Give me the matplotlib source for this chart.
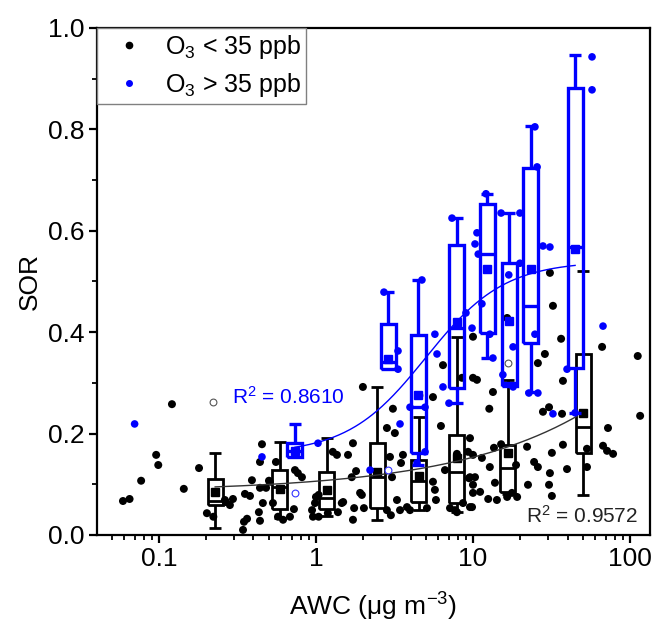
import numpy as np
import matplotlib
matplotlib.use('Agg')
import matplotlib.pyplot as plt
from matplotlib.lines import Line2D
from matplotlib.ticker import LogLocator, NullFormatter, MultipleLocator

plt.rcParams['font.family'] = ['Liberation Sans', 'DejaVu Sans']
plt.rcParams['mathtext.fontset'] = 'custom'
plt.rcParams['mathtext.rm'] = 'Liberation Sans'
plt.rcParams['mathtext.it'] = 'Liberation Sans:italic'
plt.rcParams['mathtext.default'] = 'regular'

# ---------------- data ----------------
# O3 < 35 ppb scatter points
low_awc = [0.059, 0.065, 0.077, 0.096, 0.099, 0.121, 0.144, 0.180, 0.202, 0.222,
           0.263, 0.267, 0.283, 0.296, 0.343, 0.348, 0.364, 0.353, 0.380, 0.391,
           0.440, 0.481, 0.433, 0.440, 0.459, 0.453, 0.440, 0.509, 0.532, 0.556,
           0.617, 0.502, 0.573, 0.683, 0.735, 0.767, 0.814, 0.724, 0.944, 0.986,
           1.00, 0.957, 1.28, 1.36, 1.49, 1.60, 1.72, 1.80, 1.75, 1.72,
           1.96, 1.99, 2.02, 1.91, 2.83, 3.09, 3.18, 3.00, 3.28, 3.48,
           3.58, 2.96, 3.05, 3.80, 3.97, 5.09, 5.56, 5.72, 5.81, 6.25,
           6.44, 6.63, 7.14, 7.68, 8.64, 8.51, 10.0, 10.0, 10.0, 10.3,
           10.0, 9.86, 7.90, 9.57, 10.6, 13.4, 12.7, 30.9, 32.3, 36.4,
           28.7, 25.9, 37.4, 27.9, 30.5, 36.9, 66.4, 112, 116, 72.4,
           67.3, 71.4, 78.0, 53.2, 53.2, 9.57, 11.4, 13.6, 12.8, 13.8,
           11.1, 12.5, 14.2, 16.5, 17.7, 19.1, 9.57, 22.4, 22.1, 24.5,
           25.9, 30.9, 31.8, 30.5, 31.8, 37.4, 39.7, 18.8, 15.1, 9.43,
           16.5, 7.90, 1.19, 1.46, 1.38, 1.69, 5.56, 2.83, 1.04, 1.04,
           3.43, 9.30, 10.0]
low_sor = [0.067, 0.071, 0.107, 0.158, 0.138, 0.258, 0.091, 0.132, 0.043, 0.036,
           0.069, 0.065, 0.059, 0.071, 0.010, 0.026, 0.032, 0.081, 0.077, 0.108,
           0.093, 0.093, 0.045, 0.028, 0.063, 0.179, 0.144, 0.105, 0.063, 0.144,
           0.030, 0.107, 0.036, 0.036, 0.128, 0.122, 0.114, 0.051, 0.049, 0.063,
           0.075, 0.036, 0.164, 0.158, 0.065, 0.158, 0.181, 0.126, 0.053, 0.030,
           0.079, 0.292, 0.053, 0.083, 0.211, 0.249, 0.201, 0.039, 0.069, 0.142,
           0.158, 0.154, 0.114, 0.055, 0.049, 0.053, 0.272, 0.089, 0.069, 0.215,
           0.335, 0.128, 0.053, 0.049, 0.063, 0.310, 0.391, 0.310, 0.158, 0.114,
           0.099, 0.055, 0.045, 0.191, 0.306, 0.282, 0.249, 0.517, 0.452, 0.387,
           0.357, 0.339, 0.304, 0.243, 0.252, 0.239, 0.371, 0.353, 0.235, 0.211,
           0.176, 0.166, 0.160, 0.170, 0.134, 0.114, 0.152, 0.172, 0.134, 0.103,
           0.085, 0.071, 0.069, 0.075, 0.083, 0.075, 0.055, 0.099, 0.174, 0.144,
           0.134, 0.122, 0.162, 0.099, 0.077, 0.178, 0.130, 0.138, 0.179, 0.112,
           0.428, 0.160, 0.043, 0.063, 0.045, 0.114, 0.105, 0.049, 0.079, 0.036,
           0.049, 0.164, 0.083]

# O3 > 35 ppb scatter points
high_awc = [0.070, 0.453, 1.03, 2.21, 3.43, 2.71, 3.33, 3.33, 4.73, 3.97,
            4.95, 5.72, 5.90, 4.95, 4.40, 6.44, 7.03, 7.35, 9.02, 9.86,
            10.6, 10.3, 10.8, 11.4, 12.1, 15.1, 19.9, 16.9, 19.9, 18.0,
            13.4, 12.8, 24.8, 27.9, 30.9, 25.6, 24.8, 57.3, 57.3, 67.3,
            32.3, 15.5, 18.0, 22.7, 25.9, 39.7, 44.7]
high_sor = [0.219, 0.154, 0.181, 0.128, 0.219, 0.479, 0.363, 0.327, 0.503, 0.252,
            0.252, 0.396, 0.357, 0.164, 0.142, 0.292, 0.260, 0.625, 0.438, 0.408,
            0.596, 0.574, 0.554, 0.456, 0.673, 0.635, 0.635, 0.513, 0.536, 0.371,
            0.349, 0.396, 0.396, 0.570, 0.568, 0.726, 0.805, 0.943, 0.878, 0.412,
            0.239, 0.316, 0.292, 0.280, 0.280, 0.327, 0.241]

# outliers (open circles)
low_out_awc = [0.222, 4.53, 16.7]
low_out_sor = [0.262, 0.276, 0.339]
high_out_awc = [0.735, 2.88]
high_out_sor = [0.083, 0.128]

# box statistics, O3 < 35 ppb
low_pos = [0.228, 0.59, 1.175, 2.45, 4.53, 7.9, 16.7, 50.4]
low_q1 = [0.059, 0.051, 0.051, 0.053, 0.065, 0.063, 0.085, 0.162]
low_med = [0.068, 0.095, 0.073, 0.114, 0.106, 0.124, 0.132, 0.213]
low_q3 = [0.110, 0.128, 0.124, 0.181, 0.148, 0.197, 0.178, 0.357]
low_mean = [0.085, 0.091, 0.089, 0.124, 0.116, 0.152, 0.162, 0.241]
low_wlo = [0.013, 0.034, 0.037, 0.030, 0.049, 0.045, 0.080, 0.079]
low_whi = [0.161, 0.183, 0.191, 0.292, 0.233, 0.391, 0.306, 0.521]

# box statistics, O3 > 35 ppb
high_pos = [0.735, 2.88, 4.47, 7.9, 12.3, 17.0, 23.4, 44.7]
high_q1 = [0.154, 0.327, 0.161, 0.290, 0.398, 0.294, 0.379, 0.329]
high_med = [0.166, 0.341, 0.252, 0.408, 0.554, 0.300, 0.452, 0.568]
high_q3 = [0.181, 0.416, 0.394, 0.572, 0.652, 0.536, 0.724, 0.882]
high_mean = [0.166, 0.347, 0.276, 0.420, 0.525, 0.422, 0.525, 0.564]
high_wlo = [0.154, 0.327, 0.138, 0.260, 0.349, 0.294, 0.282, 0.241]
high_whi = [0.219, 0.479, 0.503, 0.625, 0.673, 0.635, 0.807, 0.947]

# fitted curves
# low: y = a + b*exp(c*log10(x))
low_fit = dict(a=0.085, b=0.021, c=1.18, xmin=0.228, xmax=46.0)
# high: logistic in log10(x)
high_fit = dict(A1=0.16, A2=0.54, u0=0.70, w=0.25, xmin=0.735, xmax=44.7)

low_r2 = "0.9572"
high_r2 = "0.8610"

x_ticks = [0.1, 1, 10, 100]
x_ticklabels = ["0.1", "1", "10", "100"]
y_ticks = [0.0, 0.2, 0.4, 0.6, 0.8, 1.0]
y_ticklabels = ["0.0", "0.2", "0.4", "0.6", "0.8", "1.0"]

BLUE = '#0000ff'
BLACK = '#000000'

# ---------------- figure ----------------
fig = plt.figure(figsize=(6.57, 6.26), dpi=100)
ax = fig.add_axes([0.1476, 0.1454, 0.8417, 0.8099])
ax.set_xscale('log')
ax.set_xlim(0.0403, 134)
ax.set_ylim(0.0, 1.0)

DEC_PX = 157.0  # pixels per decade in the layout


def draw_box(pos, q1, med, q3, mean, wlo, whi, color, lw, z):
    hw = 10 ** (7.5 / DEC_PX)
    cw = 10 ** (6.0 / DEC_PX)
    l, r = pos / hw, pos * hw
    kw = dict(color=color, lw=lw, zorder=z, solid_capstyle='butt', solid_joinstyle='miter')
    ax.plot([l, r, r, l, l], [q1, q1, q3, q3, q1], **kw)
    ax.plot([l, r], [med, med], **kw)
    if whi > q3:
        ax.plot([pos, pos], [q3, whi], **kw)
        ax.plot([pos / cw, pos * cw], [whi, whi], **kw)
    if wlo < q1:
        ax.plot([pos, pos], [wlo, q1], **kw)
        ax.plot([pos / cw, pos * cw], [wlo, wlo], **kw)
    ax.plot([pos], [mean], marker='s', ms=5.2, color=color, mec=color, zorder=z + 0.1, ls='none')


# low series
ax.scatter(low_awc, low_sor, s=33, color=BLACK, edgecolors='none', zorder=3)
ax.scatter(low_out_awc, low_out_sor, s=24, facecolors='white', edgecolors='#555555', linewidths=0.8, zorder=3)
for i in range(len(low_pos)):
    draw_box(low_pos[i], low_q1[i], low_med[i], low_q3[i], low_mean[i],
             low_wlo[i], low_whi[i], BLACK, 2.0, 4)

# fits
xl = np.logspace(np.log10(low_fit['xmin']), np.log10(low_fit['xmax']), 200)
yl = low_fit['a'] + low_fit['b'] * np.exp(low_fit['c'] * np.log10(xl))
ax.plot(xl, yl, color='#333333', lw=1.0, zorder=5)

xh = np.logspace(np.log10(high_fit['xmin']), np.log10(high_fit['xmax']), 200)
yh = high_fit['A1'] + (high_fit['A2'] - high_fit['A1']) / (
    1 + np.exp(-(np.log10(xh) - high_fit['u0']) / high_fit['w']))
ax.plot(xh, yh, color=BLUE, lw=1.0, zorder=5)

# high series
ax.scatter(high_awc, high_sor, s=30, color=BLUE, edgecolors='none', zorder=6)
ax.scatter(high_out_awc, high_out_sor, s=24, facecolors='white', edgecolors='#3333ff', linewidths=0.8, zorder=6)
for i in range(len(high_pos)):
    draw_box(high_pos[i], high_q1[i], high_med[i], high_q3[i], high_mean[i],
             high_wlo[i], high_whi[i], BLUE, 2.4, 7)

# R^2 labels
ax.text(0.244, 0.272, "R$^2$ = " + high_r2, transform=ax.transAxes, color=BLUE,
        fontsize=15, ha='left', va='center', zorder=8)
ax.text(0.978, 0.037, "R$^2$ = " + low_r2, transform=ax.transAxes, color='#222222',
        fontsize=15, ha='right', va='center', zorder=8)

# axes styling
for sp in ax.spines.values():
    sp.set_linewidth(1.6)
ax.set_xticks(x_ticks)
ax.set_xticklabels(x_ticklabels)
ax.xaxis.set_minor_locator(LogLocator(base=10, subs=np.arange(2, 10)))
ax.xaxis.set_minor_formatter(NullFormatter())
ax.set_yticks(y_ticks)
ax.set_yticklabels(y_ticklabels)
ax.yaxis.set_minor_locator(MultipleLocator(0.1))
ax.tick_params(which='major', direction='out', length=6, width=1.6, labelsize=19, pad=3)
ax.tick_params(which='minor', direction='out', length=3.5, width=1.3)
ax.tick_params(top=False, right=False, which='both')

ax.set_xlabel("AWC (\u03bcg m$^{-3}$)", fontsize=19, labelpad=14)
ax.set_ylabel("SOR", fontsize=19, labelpad=4)

handles = [Line2D([], [], ls='none', marker='o', ms=4.5, color=BLACK, label='O$_3$ < 35 ppb'),
           Line2D([], [], ls='none', marker='o', ms=4.0, color=BLUE, label='O$_3$ > 35 ppb')]
leg = ax.legend(handles=handles, loc='upper left', bbox_to_anchor=(0.0, 1.0), fontsize=18,
                frameon=True, fancybox=False, edgecolor='#808080', framealpha=1,
                borderaxespad=0.0, handletextpad=0.34, labelspacing=0.4, borderpad=0.2,
                handlelength=2.2)
leg.get_frame().set_linewidth(1.0)
leg.set_zorder(10)

fig.savefig('out.png', dpi=100)
